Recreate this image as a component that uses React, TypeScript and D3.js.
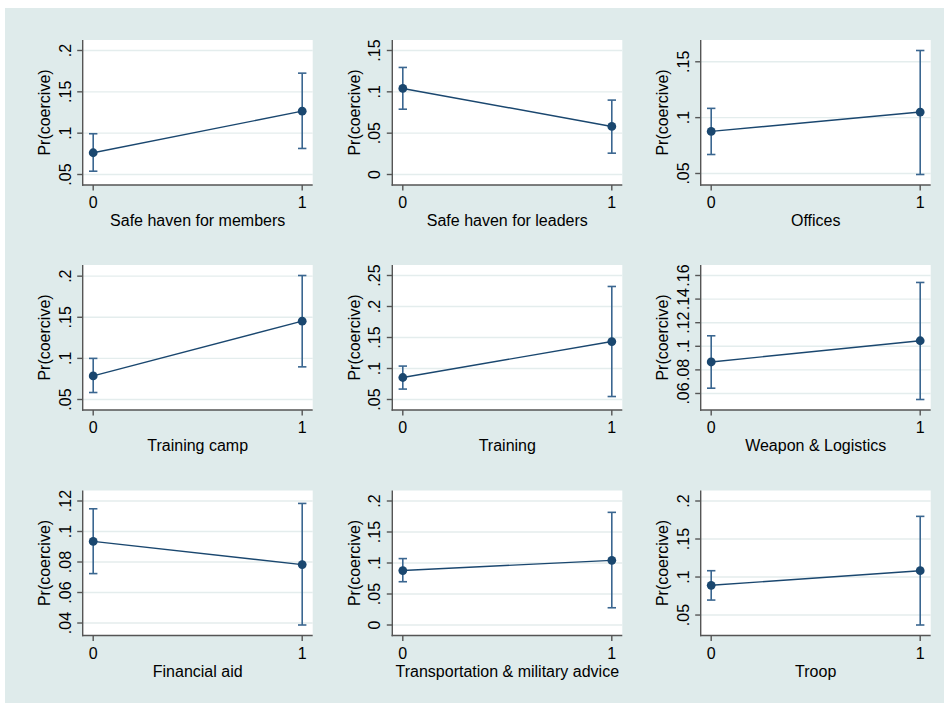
import * as d3 from 'd3';

// Predicted Pr(coercive) by type of external support (0 = no, 1 = yes), 95% CIs.
const panelTitles = [
  'Safe haven for members',
  'Safe haven for leaders',
  'Offices',
  'Training camp',
  'Training',
  'Weapon & Logistics',
  'Financial aid',
  'Transportation & military advice',
  'Troop',
];

const xTicks = [0, 1];

const yTicks = [
  [0.05, 0.1, 0.15, 0.2],
  [0, 0.05, 0.1, 0.15],
  [0.05, 0.1, 0.15],
  [0.05, 0.1, 0.15, 0.2],
  [0.05, 0.1, 0.15, 0.2, 0.25],
  [0.06, 0.08, 0.1, 0.12, 0.14, 0.16],
  [0.04, 0.06, 0.08, 0.1, 0.12],
  [0, 0.05, 0.1, 0.15, 0.2],
  [0.05, 0.1, 0.15, 0.2],
];

const estimate = [
  [0.0763, 0.1266],
  [0.1041, 0.0581],
  [0.0877, 0.105],
  [0.0787, 0.1453],
  [0.0855, 0.1435],
  [0.0867, 0.1047],
  [0.0935, 0.0783],
  [0.0878, 0.1043],
  [0.0891, 0.1083],
];

const lower = [
  [0.054, 0.0815],
  [0.079, 0.0258],
  [0.067, 0.0491],
  [0.0585, 0.0897],
  [0.0668, 0.0548],
  [0.0645, 0.0549],
  [0.0724, 0.0387],
  [0.0698, 0.0278],
  [0.0697, 0.0369],
];

const upper = [
  [0.0993, 0.1726],
  [0.1295, 0.09],
  [0.1083, 0.1601],
  [0.1, 0.2008],
  [0.1039, 0.2323],
  [0.1089, 0.1541],
  [0.1149, 0.1184],
  [0.1071, 0.1817],
  [0.1083, 0.1798],
];

const W = 949;
const H = 705;
const colLeft = [82.7, 392.3, 700.7];
const rowTop = [40, 265, 490.5];
const plotW = 230;
const plotH = 145;
const inset = 10.5;

const bg = '#dfebeb';
const grid = '#e4eded';
const axisCol = '#555555';
const navy = '#1a476f';
const ciCol = '#3a6690';
const font = '"Liberation Sans", Arial, Helvetica, sans-serif';

// Stata-style labels: .05, .1, 0
const fmt = (v: number) => (v === 0 ? '0' : String(+v.toFixed(3)).replace(/^0\./, '.'));

function Panel({ i }: { i: number }) {
  const left = colLeft[i % 3];
  const top = rowTop[Math.floor(i / 3)];
  const right = left + plotW;
  const bottom = top + plotH;

  const x = d3.scaleLinear().domain([0, 1]).range([left + inset, right - inset]);
  const ext = d3.extent([...yTicks[i], ...lower[i], ...upper[i]]) as [number, number];
  const y = d3.scaleLinear().domain(ext).range([bottom - inset, top + inset]);

  const line = d3
    .line<number>()
    .x((_, k) => x(xTicks[k]))
    .y((d) => y(d));

  return (
    <g>
      <rect x={left} y={top} width={plotW} height={plotH} fill="#ffffff" />
      {yTicks[i].map((t) => (
        <line key={'g' + t} x1={left} x2={right} y1={y(t)} y2={y(t)} stroke={grid} strokeWidth={1.4} />
      ))}
      <line x1={left} x2={left} y1={top} y2={bottom + 0.7} stroke={axisCol} strokeWidth={1.4} />
      <line x1={left - 0.7} x2={right} y1={bottom} y2={bottom} stroke={axisCol} strokeWidth={1.4} />
      {yTicks[i].map((t) => (
        <g key={'y' + t}>
          <line x1={left - 5.5} x2={left} y1={y(t)} y2={y(t)} stroke={axisCol} strokeWidth={1.4} />
          <text
            transform={`translate(${left - 12},${y(t)}) rotate(-90)`}
            textAnchor="middle"
            fontSize={16}
            fill="#000"
          >
            {fmt(t)}
          </text>
        </g>
      ))}
      {xTicks.map((t) => (
        <g key={'x' + t}>
          <line x1={x(t)} x2={x(t)} y1={bottom} y2={bottom + 5.5} stroke={axisCol} strokeWidth={1.4} />
          <text x={x(t)} y={bottom + 23} textAnchor="middle" fontSize={16} fill="#000">
            {t}
          </text>
        </g>
      ))}
      <text
        transform={`translate(${left - 32.5},${(top + bottom) / 2}) rotate(-90)`}
        textAnchor="middle"
        fontSize={16}
        fill="#000"
      >
        Pr(coercive)
      </text>
      <text x={(left + right) / 2} y={bottom + 41} textAnchor="middle" fontSize={16} fill="#000">
        {panelTitles[i]}
      </text>
      {xTicks.map((t, k) => (
        <g key={'ci' + t} stroke={ciCol} strokeWidth={1.6}>
          <line x1={x(t)} x2={x(t)} y1={y(lower[i][k])} y2={y(upper[i][k])} />
          <line x1={x(t) - 4.2} x2={x(t) + 4.2} y1={y(lower[i][k])} y2={y(lower[i][k])} />
          <line x1={x(t) - 4.2} x2={x(t) + 4.2} y1={y(upper[i][k])} y2={y(upper[i][k])} />
        </g>
      ))}
      <path d={line(estimate[i]) ?? ''} fill="none" stroke={navy} strokeWidth={1.4} />
      {estimate[i].map((v, k) => (
        <circle key={'p' + k} cx={x(xTicks[k])} cy={y(v)} r={4.4} fill={navy} />
      ))}
    </g>
  );
}

export default function App() {
  return (
    <>
      <style>{'body{margin:0}'}</style>
      <svg width={W} height={H} style={{ display: 'block', fontFamily: font }}>
        <rect x={0} y={0} width={W} height={H} fill="#ffffff" />
        <rect x={5} y={8} width={939} height={695} fill={bg} />
        {panelTitles.map((_, i) => (
          <Panel key={i} i={i} />
        ))}
      </svg>
    </>
  );
}
